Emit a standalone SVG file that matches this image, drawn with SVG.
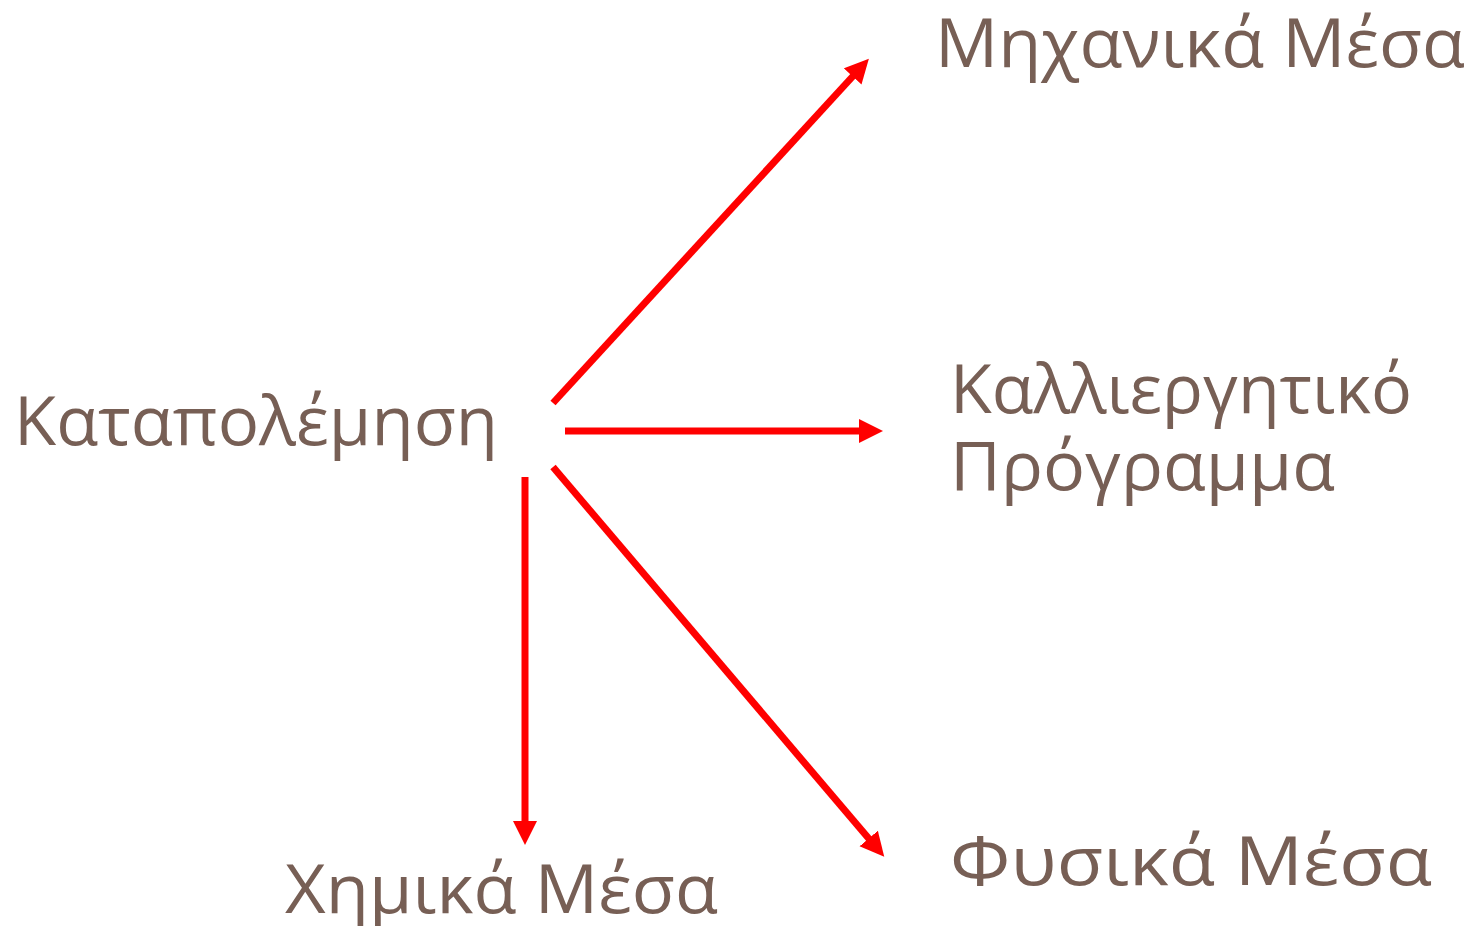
<svg xmlns="http://www.w3.org/2000/svg" width="1472" height="926" viewBox="0 0 1472 926">
<style>
.t{font-family:"Open Sans","Noto Sans","DejaVu Sans",sans-serif;fill:#775F55;font-size:68px}
.c{stroke:#FF0000;stroke-width:7;fill:none}
</style>
<defs>
<marker id="ah" markerUnits="userSpaceOnUse" markerWidth="26" markerHeight="26" refX="2" refY="12" orient="auto">
<path d="M0,0 L24,12 L0,24 Z" fill="#FF0000"/>
</marker>
</defs>
<rect width="1472" height="926" fill="#FFFFFF"/>
<g id="connectors">
<line class="c" x1="553" y1="403" x2="854" y2="75" marker-end="url(#ah)"/>
<line class="c" x1="565" y1="431" x2="861" y2="431" marker-end="url(#ah)"/>
<line class="c" x1="553" y1="467" x2="870" y2="840" marker-end="url(#ah)"/>
<line class="c" x1="525" y1="477" x2="525" y2="823" marker-end="url(#ah)"/>
</g>
<g id="n1"><text class="t" x="14" y="445" textLength="484" lengthAdjust="spacingAndGlyphs">Καταπολέμηση</text></g>
<g id="n2"><text class="t" x="935" y="67" textLength="530" lengthAdjust="spacingAndGlyphs">Μηχανικά Μέσα</text></g>
<g id="n3"><text class="t" x="950" y="413" textLength="462" lengthAdjust="spacingAndGlyphs">Καλλιεργητικό</text><text class="t" x="950" y="490" textLength="385" lengthAdjust="spacingAndGlyphs">Πρόγραμμα</text></g>
<g id="n4"><text class="t" x="950" y="885" textLength="482" lengthAdjust="spacingAndGlyphs">Φυσικά Μέσα</text></g>
<g id="n5"><text class="t" x="285" y="913" textLength="433" lengthAdjust="spacingAndGlyphs">Χημικά Μέσα</text></g>
</svg>
